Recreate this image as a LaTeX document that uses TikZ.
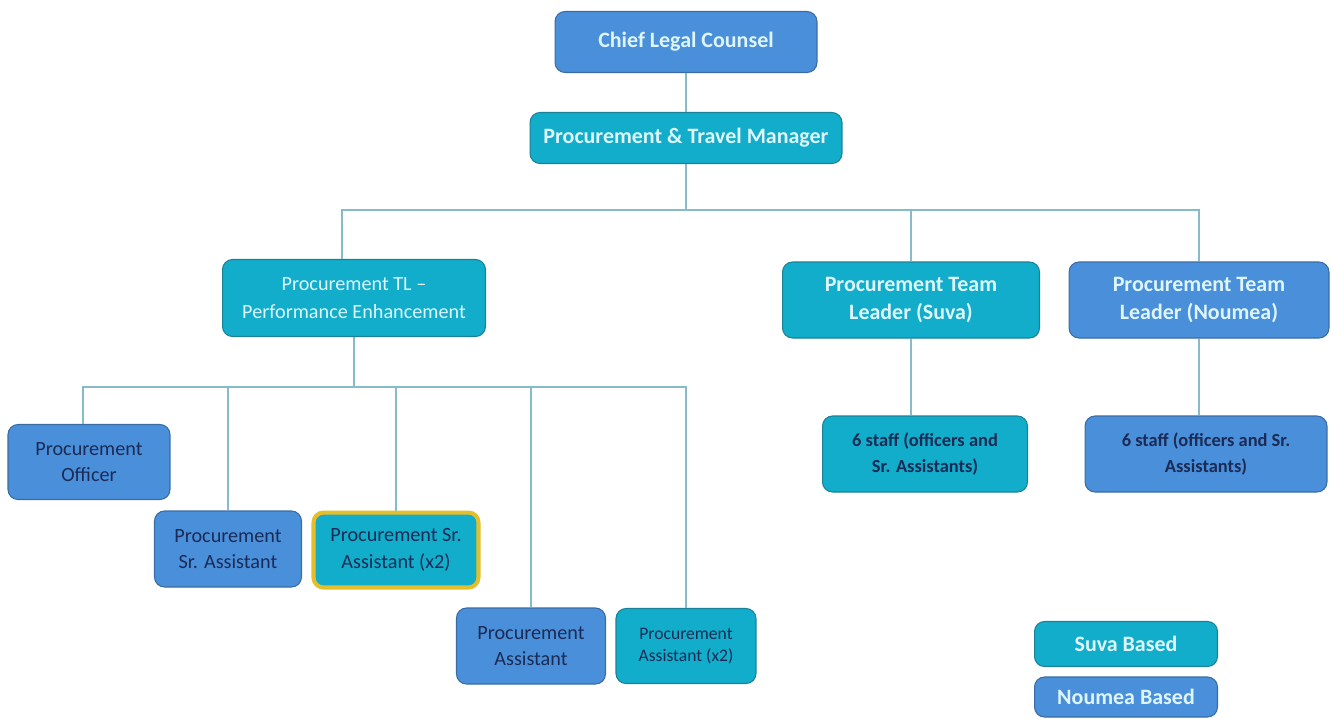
\documentclass[tikz,border=0pt]{standalone}
\usepackage{fontspec}
\setmainfont{Carlito}
\definecolor{nbblue}{HTML}{4A8FDA}
\definecolor{nbblueline}{HTML}{3A6CA3}
\definecolor{svteal}{HTML}{12ADCA}
\definecolor{svtealline}{HTML}{1A8198}
\definecolor{lighttext}{HTML}{DDF5FB}
\definecolor{darktext}{HTML}{1B2B55}
\definecolor{linkcol}{HTML}{86BCC8}
\definecolor{hilite}{HTML}{E6BE2A}
\tikzset{
  box/.style={draw, rounded corners=0.2cm, align=center, line width=0.6pt, inner sep=2pt},
  bluebox/.style={box, fill=nbblue, draw=nbblueline},
  tealbox/.style={box, fill=svteal, draw=svtealline},
  head/.style={text=lighttext, font=\fontsize{12.5}{16}\selectfont\bfseries},
  staff/.style={text=darktext, font=\fontsize{11.5}{15}\selectfont},
  link/.style={draw=linkcol, line width=0.85pt},
}
\begin{document}
\begin{tikzpicture}[x=0.02cm, y=-0.02cm]
\useasboundingbox[fill=white] (0,0) rectangle (1332,718);
\node[bluebox, head, minimum width=5.24cm, minimum height=1.22cm] (chief) at (686,42) {Chief Legal Counsel};
\node[tealbox, head, minimum width=6.24cm, minimum height=1.02cm] (mgr) at (686,138) {Procurement \& Travel Manager};
\node[tealbox, head, font=\fontsize{11.5}{16}\selectfont, minimum width=5.26cm, minimum height=1.54cm] (tlpe) at (354,298) {Procurement TL --\\Performance Enhancement};
\node[tealbox, head, minimum width=5.14cm, minimum height=1.52cm] (tlsuva) at (911,300) {Procurement Team\\Leader (Suva)};
\node[bluebox, head, minimum width=5.2cm, minimum height=1.52cm] (tlnou) at (1199,300) {Procurement Team\\Leader (Noumea)};
\node[tealbox, staff, font=\fontsize{10.5}{15}\selectfont\bfseries, minimum width=4.1cm, minimum height=1.52cm] (staffsuva) at (925,454) {6 staff (officers and\\Sr. Assistants)};
\node[bluebox, staff, font=\fontsize{10.5}{15}\selectfont\bfseries, minimum width=4.84cm, minimum height=1.52cm] (staffnou) at (1206,454) {6 staff (officers and Sr.\\Assistants)};
\node[bluebox, staff, minimum width=3.24cm, minimum height=1.5cm] (officer) at (89,462) {Procurement\\Officer};
\node[bluebox, staff, minimum width=2.94cm, minimum height=1.52cm] (srasst) at (228,549) {Procurement\\Sr. Assistant};
\node[tealbox, staff, draw=hilite, line width=2.3pt, minimum width=3.3cm, minimum height=1.5cm] (srasstb) at (396,550) {Procurement Sr.\\Assistant (x2)};
\node[bluebox, staff, minimum width=2.98cm, minimum height=1.52cm] (asst) at (531,646) {Procurement\\Assistant};
\node[tealbox, staff, font=\fontsize{10}{13}\selectfont, minimum width=2.8cm, minimum height=1.5cm] (asstb) at (686,646) {Procurement\\Assistant (x2)};
\node[tealbox, head, font=\fontsize{12.5}{15}\selectfont\bfseries, minimum width=3.66cm, minimum height=0.9cm] (legsuva) at (1126,644) {Suva Based};
\node[bluebox, head, font=\fontsize{12.5}{15}\selectfont\bfseries, minimum width=3.66cm, minimum height=0.8cm] (legnou) at (1126,697) {Noumea Based};
\coordinate (busA) at (686,210);
\coordinate (busB) at (354,387);
\draw[link] (chief) -- (mgr);
\draw[link] (mgr) -- (busA);
\draw[link] ([xshift=-0.24cm]tlpe.north) |- (busA) -| (tlnou.north);
\draw[link] (tlsuva.north) -- (tlsuva.north |- busA);
\draw[link] (tlsuva.south) -- (tlsuva.south |- staffsuva.north);
\draw[link] (tlnou.south) -- (tlnou.south |- staffnou.north);
\draw[link] (tlpe) -- (busB);
\draw[link] ([xshift=-0.12cm]officer.north) |- (busB) -| (asstb.north);
\foreach \n in {srasst,srasstb,asst}
  \draw[link] (\n.north) -- (\n.north |- busB);
\end{tikzpicture}
\end{document}
